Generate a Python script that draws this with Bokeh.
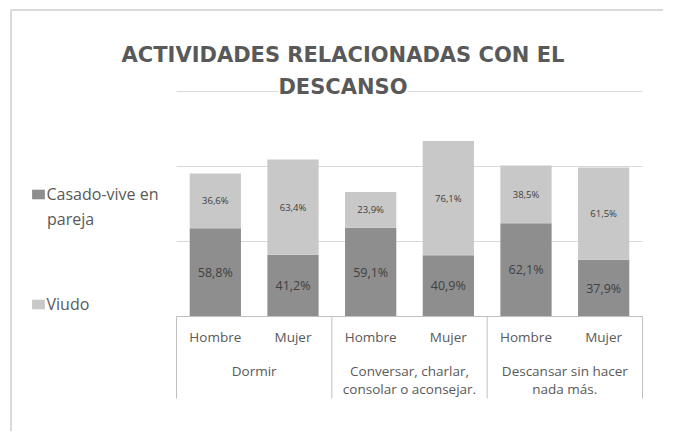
from bokeh.plotting import figure
from bokeh.models import (ColumnDataSource, Range1d, FixedTicker, LinearAxis,
                          Label, Legend, LegendItem)
from bokeh.embed import file_html
from bokeh.resources import INLINE
from bokeh.core.properties import value

# ---------------- data ----------------
activities = ["Dormir", "Conversar, charlar,\nconsolar o aconsejar.", "Descansar sin hacer\nnada más."]
sexes = ["Hombre", "Mujer"]
casado = [58.8, 41.2, 59.1, 40.9, 62.1, 37.9]
viudo = [36.6, 63.4, 23.9, 76.1, 38.5, 61.5]
series = ["Casado-vive en", "Viudo"]
series_wrap = "pareja"
grid_ticks = [50, 100, 150]
title_lines = ["ACTIVIDADES RELACIONADAS CON EL", "DESCANSO"]

# ---------------- style / layout ----------------
DARK = "#8e8e8e"
LIGHT = "#c8c8c8"
TXT = "#595959"
LBL = "#404040"
GRID = "#d9d9d9"
AXIS = "#bfbfbf"
BORDER = "#d9d9d9"
FONT = "Open Sans"
W, H = 663, 431
UNIT_PX = 466 / 6.0      # px per category slot
Y_PX = 1.5               # px per value unit
PLOT_LEFT, PLOT_BOTTOM = 176, 316   # canvas px of plot-area left / value 0
AXIS_DEPTH = 82 / Y_PX   # depth of category table below 0

n = len(casado)
n_sub = len(sexes)
xs = [i + 0.5 for i in range(n)]
sub_labels = [s for a in activities for s in sexes]

x_range = Range1d(-PLOT_LEFT / UNIT_PX, (W - PLOT_LEFT) / UNIT_PX)
y_range = Range1d(-(H - PLOT_BOTTOM) / Y_PX, PLOT_BOTTOM / Y_PX)

def px_x(px):
    return (px - PLOT_LEFT) / UNIT_PX

def px_y(px):
    return (PLOT_BOTTOM - px) / Y_PX

def fmt(v):
    return ("%.1f" % v).replace(".", ",") + "%"

src = ColumnDataSource(dict(
    x=xs,
    casado=casado,
    viudo=viudo,
    y_low=[c / 2 for c in casado],
    y_high=[c + v / 2 for c, v in zip(casado, viudo)],
    lbl_low=[fmt(c) for c in casado],
    lbl_high=[fmt(v) for v in viudo],
))

p = figure(x_range=x_range, y_range=y_range, width=W, height=H,
           output_backend="svg", toolbar_location=None, min_border=0,
           x_axis_location=None, y_axis_location=None)
p.title.visible = False
p.outline_line_color = None
p.background_fill_color = "white"
p.border_fill_color = "white"
p.xgrid.visible = False
p.ygrid.visible = False

# chart border (left / top)
bx, by = px_x(10.5), px_y(9.5)
p.segment(x0=[bx, bx], y0=[by, by], x1=[bx, x_range.end], y1=[y_range.start, by],
          line_color=BORDER, line_width=2)

# gridlines across the plot area only
p.segment(x0=[0] * len(grid_ticks), y0=grid_ticks, x1=[n] * len(grid_ticks),
          y1=grid_ticks, line_color=GRID, line_width=1)

# category axis
ax = LinearAxis(fixed_location=0, bounds=(0, n), ticker=FixedTicker(ticks=xs),
                major_label_overrides={x: s for x, s in zip(xs, sub_labels)})
ax.axis_line_color = AXIS
ax.major_tick_line_color = None
ax.minor_tick_line_color = None
ax.major_label_text_font = FONT
ax.major_label_text_font_size = "13.5px"
ax.major_label_text_color = TXT
ax.major_label_standoff = 5
p.add_layout(ax, "below")

# group separators under the axis
bounds = [i * n_sub for i in range(len(activities) + 1)]
p.segment(x0=bounds, y0=[0] * len(bounds), x1=bounds,
          y1=[-AXIS_DEPTH] * len(bounds), line_color=AXIS, line_width=1)

# group labels
gsrc = ColumnDataSource(dict(x=[(i + 0.5) * n_sub for i in range(len(activities))],
                             y=[-30] * len(activities), t=activities))
p.text(x="x", y="y", text="t", source=gsrc, text_align="center",
       text_baseline="top", text_font=value(FONT), text_font_size=value("13.5px"),
       text_color=TXT, text_line_height=1.05)

renderers = p.vbar_stack(["casado", "viudo"], x="x", width=0.66, source=src,
                         color=[DARK, LIGHT], line_color=None)

p.text(x="x", y="y_low", text="lbl_low", source=src, text_align="center",
       text_baseline="middle", text_font=value(FONT), text_font_size=value("12.5px"),
       text_color=LBL)
p.text(x="x", y="y_high", text="lbl_high", source=src, text_align="center",
       text_baseline="middle", text_font=value(FONT), text_font_size=value("9.5px"),
       text_color=LBL)

# title
p.add_layout(Label(x=342.5, y=H - 54.5, x_units="screen", y_units="screen",
                   text=title_lines[0], text_align="center", text_baseline="middle",
                   text_font="DejaVu Sans", text_font_size="21px",
                   text_font_style="bold", text_color=TXT))
p.add_layout(Label(x=342.5, y=H - 86.5, x_units="screen", y_units="screen",
                   text=title_lines[1], text_align="center", text_baseline="middle",
                   text_font="DejaVu Sans", text_font_size="21px",
                   text_font_style="bold", text_color=TXT,
                   background_fill_color="white"))

# legends (vbar legend glyphs are inset 10% on each side)
LEG_X = 29.5
GLYPH_W = 16
GLYPH_H = 12
STANDOFF = 1
for name, r, yc in zip(series, renderers, [194, 304]):
    leg = Legend(items=[LegendItem(label=name, renderers=[r])],
                 location=(LEG_X, H - yc - 10.5))
    leg.glyph_width = GLYPH_W
    leg.glyph_height = GLYPH_H
    leg.label_height = 10
    leg.label_standoff = STANDOFF
    leg.label_text_font = FONT
    leg.label_text_font_size = "16px"
    leg.label_text_color = TXT
    leg.border_line_color = None
    leg.background_fill_alpha = 0
    leg.padding = 0
    leg.margin = 0
    p.add_layout(leg)

p.add_layout(Label(x=LEG_X + GLYPH_W + STANDOFF, y=H - 218, x_units="screen",
                   y_units="screen", text=series_wrap, text_align="left",
                   text_baseline="middle", text_font=FONT, text_font_size="16px",
                   text_color=TXT))

open("out.html", "w").write(file_html(p, INLINE))
